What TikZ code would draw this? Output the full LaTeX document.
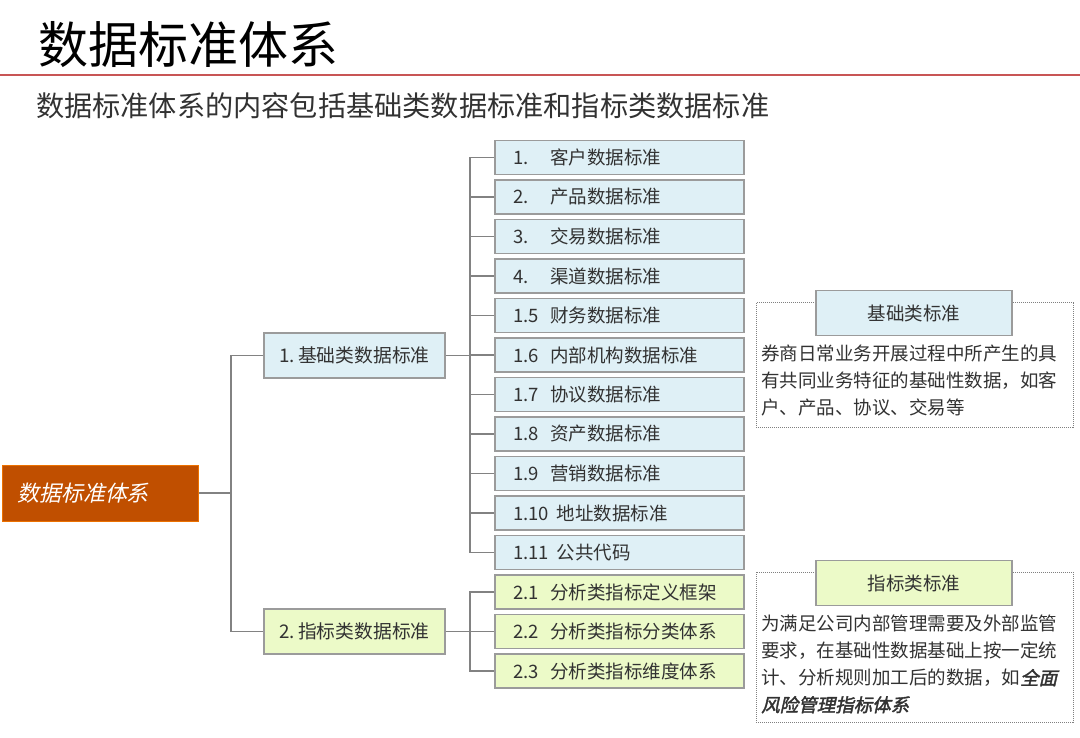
\documentclass[tikz,border=0pt]{standalone}
\usepackage{fontspec}
\setmainfont{Noto Sans CJK SC}
\newfontfamily\cjkit[FakeSlant=0.22]{Noto Sans CJK SC}
\newfontfamily\cjkbi[FakeSlant=0.22,FakeBold=2]{Noto Sans CJK SC}
\usepackage{xcolor}
\usepackage{tikz}
\usetikzlibrary{positioning}

\definecolor{rootfill}{RGB}{192,79,0}
\definecolor{bluefill}{RGB}{223,240,246}
\definecolor{greenfill}{RGB}{236,250,200}
\definecolor{boxline}{RGB}{155,155,155}
\definecolor{connline}{RGB}{130,130,130}
\definecolor{txt}{RGB}{50,50,50}
\definecolor{rule}{RGB}{200,85,85}

\begin{document}
\begin{tikzpicture}[x=1pt, y=-1pt,
    root/.style={rectangle, draw=orange!70!rootfill, fill=rootfill, line width=1pt, minimum height=56pt,
        inner xsep=15pt, text width=166pt, align=left, text=white, font=\cjkit\fontsize{22}{26}\selectfont},
    cat/.style={rectangle, draw=boxline, line width=1.3pt, minimum width=181pt, minimum height=45pt,
        inner xsep=0pt, text=txt, font=\fontsize{18.8}{22}\selectfont},
    item/.style={rectangle, draw=boxline, line width=1.3pt, minimum height=34pt, inner ysep=0pt,
        inner xsep=18pt, text width=213pt, align=left, text=txt, font=\fontsize{18.5}{22}\selectfont},
    head/.style={rectangle, draw=boxline, line width=1.3pt, minimum width=196pt, minimum height=45pt,
        text=txt, font=\fontsize{18.5}{22}\selectfont},
    frame/.style={rectangle, draw=gray, densely dotted, line width=1pt, minimum width=317pt},
    body/.style={anchor=north west, inner sep=0pt, align=left, text=txt, font=\fontsize{18.5}{27}\selectfont},
    conn/.style={-, line width=1.5pt, connline}
]
    \useasboundingbox (0,0) rectangle (1080,738);

    % heading
    \node[anchor=base west, inner sep=0pt, font=\fontsize{50}{56}\selectfont] (title) at (38,64) {数据标准体系};
    \draw[rule, line width=2pt] (0,75) -- (1080,75);
    \node[anchor=base west, inner sep=0pt, text=txt, font=\fontsize{28.2}{32}\selectfont] (sub) at (36,117)
        {数据标准体系的内容包括基础类数据标准和指标类数据标准};

    % tree
    \node[root] (root) at (100,493) {数据标准体系};
    \node[cat, fill=bluefill] (basic) at (354.5,355.5) {1.\,基础类数据标准};
    \node[cat, fill=greenfill] (index) at (354.5,631.5) {2.\,指标类数据标准};

    \node[item, fill=bluefill] (a1) at (619.5,157.5) {\makebox[37pt][l]{1.}客户数据标准};
    \node[item, fill=bluefill] (a2) at (619.5,197) {\makebox[37pt][l]{2.}产品数据标准};
    \node[item, fill=bluefill] (a3) at (619.5,236.5) {\makebox[37pt][l]{3.}交易数据标准};
    \node[item, fill=bluefill] (a4) at (619.5,276) {\makebox[37pt][l]{4.}渠道数据标准};
    \node[item, fill=bluefill] (a5) at (619.5,315.5) {\makebox[37pt][l]{1.5}财务数据标准};
    \node[item, fill=bluefill] (a6) at (619.5,355) {\makebox[37pt][l]{1.6}内部机构数据标准};
    \node[item, fill=bluefill] (a7) at (619.5,394.5) {\makebox[37pt][l]{1.7}协议数据标准};
    \node[item, fill=bluefill] (a8) at (619.5,434) {\makebox[37pt][l]{1.8}资产数据标准};
    \node[item, fill=bluefill] (a9) at (619.5,473.5) {\makebox[37pt][l]{1.9}营销数据标准};
    \node[item, fill=bluefill] (a10) at (619.5,513) {\makebox[44pt][l]{1.10}地址数据标准};
    \node[item, fill=bluefill] (a11) at (619.5,552.5) {\makebox[44pt][l]{1.11}公共代码};

    \node[item, fill=greenfill] (b1) at (619.5,592) {\makebox[37pt][l]{2.1}分析类指标定义框架};
    \node[item, fill=greenfill] (b2) at (619.5,631.5) {\makebox[37pt][l]{2.2}分析类指标分类体系};
    \node[item, fill=greenfill] (b3) at (619.5,671) {\makebox[37pt][l]{2.3}分析类指标维度体系};

    \coordinate (jr) at (231,493);
    \coordinate (ja) at (470,355.5);
    \coordinate (jb) at (470,631.5);
    \draw[conn] (root.east) -- (jr);
    \draw[conn] (jr) |- (basic.west);
    \draw[conn] (jr) |- (index.west);
    \draw[conn] (basic.east) -- (ja);
    \draw[conn] (index.east) -- (jb);
    \draw[conn] (ja) |- (a1.west);
    \draw[conn] (ja) |- (a2.west);
    \draw[conn] (ja) |- (a3.west);
    \draw[conn] (ja) |- (a4.west);
    \draw[conn] (ja) |- (a5.west);
    \draw[conn] (ja) |- (a6.west);
    \draw[conn] (ja) |- (a7.west);
    \draw[conn] (ja) |- (a8.west);
    \draw[conn] (ja) |- (a9.west);
    \draw[conn] (ja) |- (a10.west);
    \draw[conn] (ja) |- (a11.west);
    \draw[conn] (jb) |- (b1.west);
    \draw[conn] (jb) |- (b2.west);
    \draw[conn] (jb) |- (b3.west);

    % notes
    \node[frame, minimum height=124pt] (noteA) at (914.5,365) {};
    \node[head, fill=bluefill] (headA) at (914,313) {基础类标准};
    \node[body] (textA) at (761,345) {券商日常业务开展过程中所产生的具\\有共同业务特征的基础性数据，如客\\户、产品、协议、交易等};

    \node[frame, minimum height=150pt] (noteB) at (914.5,647) {};
    \node[head, fill=greenfill] (headB) at (914,583) {指标类标准};
    \node[body] (textB) at (761,615) {为满足公司内部管理需要及外部监管\\要求，在基础性数据基础上按一定统\\计、分析规则加工后的数据，如{\cjkbi 全面}\\{\cjkbi 风险管理指标体系}};
\end{tikzpicture}
\end{document}
